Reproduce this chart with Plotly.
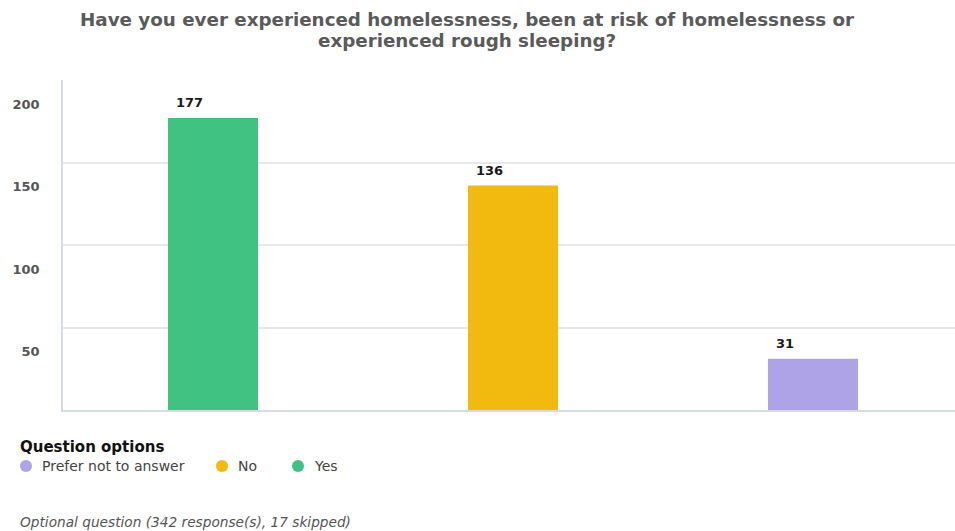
import plotly.graph_objects as go

# Survey answers
categories = ["Yes", "No", "Prefer not to answer"]
counts = [177, 136, 31]
colors = ["#40c382", "#f2b90f", "#ada3e6"]
legend_order = ["Prefer not to answer", "No", "Yes"]
y_ticks = [50, 100, 150, 200]

title_lines = [
    "Have you ever experienced homelessness, been at risk of homelessness or",
    "experienced rough sleeping?",
]
legend_title = "Question options"
footnote = "Optional question (342 response(s), 17 skipped)"

W, H = 955, 531
M_L, M_R, M_T, M_B = 63, 0, 80, 121
plot_w = W - M_L - M_R
plot_h = H - M_T - M_B
FONT = "DejaVu Sans"


def px_x(p):
    return (p - M_L) / plot_w


def px_y(p):
    return (M_T + plot_h - p) / plot_h


fig = go.Figure()

fig.add_trace(go.Bar(
    x=list(range(len(categories))),
    y=counts,
    width=0.3,
    marker=dict(color=colors, line=dict(width=0)),
    showlegend=False,
    hovertext=categories,
))

# Value labels above each bar, aligned near the bar's left edge
for i, v in enumerate(counts):
    fig.add_annotation(
        x=i, y=v, xref="x", yref="y", text=f"<b>{v}</b>", showarrow=False,
        xanchor="left", yanchor="bottom", xshift=-39, yshift=6,
        font=dict(family=FONT, size=13, color="#1a1a1a"),
    )

# Two-line title, one annotation per line
for k, line in enumerate(title_lines):
    fig.add_annotation(
        x=px_x(467), y=px_y(20 + 20 * k), xref="paper", yref="paper",
        text=f"<b>{line}</b>", showarrow=False, xanchor="center", yanchor="middle",
        font=dict(family=FONT, size=18.3, color="#5a5a5a"),
    )

# Legend: heading, coloured dots and option names
fig.add_annotation(
    x=px_x(18), y=px_y(447), xref="paper", yref="paper", text=f"<b>{legend_title}</b>",
    showarrow=False, xanchor="left", yanchor="middle",
    font=dict(family=FONT, size=15, color="#111111"),
)
color_of = dict(zip(categories, colors))
dot_px = [26, 222, 298]
for name, dx in zip(legend_order, dot_px):
    fig.add_shape(
        type="circle", xref="paper", yref="paper",
        xsizemode="pixel", ysizemode="pixel",
        xanchor=px_x(dx), yanchor=px_y(466),
        x0=-6, x1=6, y0=-6, y1=6,
        fillcolor=color_of[name], line=dict(width=0),
    )
    fig.add_annotation(
        x=px_x(dx + 14), y=px_y(466), xref="paper", yref="paper", text=name,
        showarrow=False, xanchor="left", yanchor="middle",
        font=dict(family=FONT, size=14, color="#444444"),
    )

fig.add_annotation(
    x=px_x(18), y=px_y(522), xref="paper", yref="paper", text=f"<i>{footnote}</i>",
    showarrow=False, xanchor="left", yanchor="middle",
    font=dict(family=FONT, size=13.7, color="#555555"),
)

fig.update_layout(
    width=W, height=H,
    margin=dict(l=M_L, r=M_R, t=M_T, b=M_B, autoexpand=False),
    paper_bgcolor="white", plot_bgcolor="white",
    showlegend=False,
)

fig.update_xaxes(
    range=[-0.5, -0.5 + plot_w / 300], showticklabels=False, showgrid=False,
    zeroline=False, showline=True, linecolor="#d3dce6", linewidth=1.5, ticks="",
)
fig.update_yaxes(
    range=[0, 200], tickvals=y_ticks, ticktext=[str(t) for t in y_ticks],
    ticklabelshift=24, ticklabelstandoff=19,
    tickfont=dict(family=FONT, size=13, color="#555555", weight="bold"),
    showgrid=True, gridcolor="#e8e8e8", gridwidth=1.5, zeroline=False,
    showline=True, linecolor="#d3dce6", linewidth=1.5, ticks="",
)

fig.write_html("out.html")
